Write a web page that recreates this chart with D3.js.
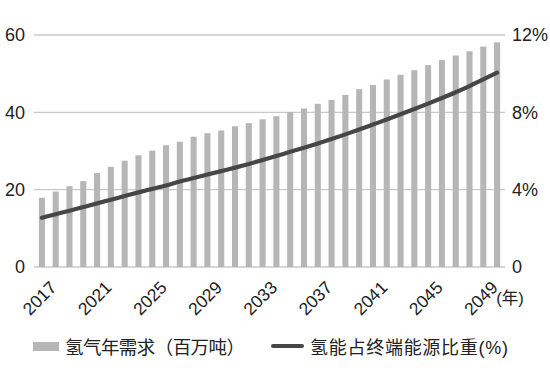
<!DOCTYPE html>
<html><head><meta charset="utf-8">
<script src="https://cdn.jsdelivr.net/npm/d3@7"></script>
<style>
html,body{margin:0;padding:0;background:#fff;}
text{font-family:"Liberation Sans",Arial,"Noto Sans CJK SC",sans-serif;fill:#222;}
.cjk{font-family:"Liberation Sans","Noto Sans CJK SC",sans-serif;}
</style></head>
<body>
<svg id="chart" width="550" height="378"></svg>
<script>
const years = d3.range(2017, 2051).map(String);
const demand = [17.9,19.5,20.9,22.2,24.3,25.9,27.5,28.9,30.1,31.5,32.4,33.7,34.6,35.3,36.4,37.2,38.2,
                39.0,40.1,41.0,42.2,43.2,44.5,46.0,47.1,48.5,49.7,50.9,52.2,53.5,54.7,55.8,57.0,58.1];
const share = [2.55,2.73,2.91,3.10,3.29,3.48,3.67,3.86,4.04,4.22,4.42,4.60,4.78,4.96,5.14,5.33,5.53,
               5.74,5.96,6.17,6.39,6.62,6.86,7.11,7.37,7.63,7.90,8.17,8.45,8.74,9.04,9.36,9.70,10.05];
const leftTicks = [0,20,40,60];
const rightTicks = [0,4,8,12];
const xTickLabels = ["2017","2021","2025","2029","2033","2037","2041","2045","2049"];
const legendLabels = ["氢气年需求（百万吨）","氢能占终端能源比重(%)"];
const unitLabel = "(年)";

(function(){
const svg = d3.select("#chart");
const L = 35, R = 504, T = 35, B = 267;
const x = d3.scaleBand().domain(years).range([L, R]).paddingInner(0.56).paddingOuter(0.28);
const yL = d3.scaleLinear().domain([0,60]).range([B, T]);
const yR = d3.scaleLinear().domain([0,12]).range([B, T]);

svg.append("g").selectAll("line").data(leftTicks).join("line")
  .attr("x1", 34).attr("x2", 505)
  .attr("y1", d => yL(d)).attr("y2", d => yL(d))
  .attr("stroke", "#c9c9c9").attr("stroke-width", 1.3);

svg.append("g").selectAll("rect").data(years).join("rect")
  .attr("x", d => x(d)).attr("width", x.bandwidth())
  .attr("y", (d,i) => yL(demand[i])).attr("height", (d,i) => yL(0) - yL(demand[i]))
  .attr("fill", "#b6b6b6");

const line = d3.line().x((d,i) => x(years[i]) + x.bandwidth()/2).y(d => yR(d)).curve(d3.curveMonotoneX);
svg.append("path").datum(share).attr("d", line)
  .attr("fill", "none").attr("stroke", "#464646").attr("stroke-width", 4.2).attr("stroke-linecap", "round");

const axL = d3.axisLeft(yL).tickValues(leftTicks).tickSize(0).tickPadding(0);
const gL = svg.append("g").attr("transform", "translate(25,0)").call(axL);
gL.select(".domain").remove();
gL.selectAll("text").style("font-size", "18px").attr("fill", "#222");

const axR = d3.axisRight(yR).tickValues(rightTicks).tickSize(0).tickPadding(0)
  .tickFormat(d => d === 0 ? "0" : d + "%");
const gR = svg.append("g").attr("transform", "translate(512,0)").call(axR);
gR.select(".domain").remove();
gR.selectAll("text").style("font-size", "18px").attr("fill", "#222");

svg.append("g").selectAll("text").data(xTickLabels).join("text")
  .attr("transform", d => `translate(${x(d) + x.bandwidth()/2 + 7},${B + 13}) rotate(-45)`)
  .attr("text-anchor", "end").attr("dy", "0.7em")
  .style("font-size", "17.5px").text(d => d);

svg.append("text").attr("x", 510).attr("y", 304).attr("text-anchor", "middle")
  .attr("class", "cjk").style("font-size", "16.5px").text(unitLabel);

const lg = svg.append("g");
lg.append("rect").attr("x", 33).attr("y", 342).attr("width", 26).attr("height", 9).attr("fill", "#b6b6b6");
lg.append("text").attr("class","cjk").attr("x", 65).attr("y", 353.5).style("font-size", "18.5px")
  .attr("textLength", 180).text(legendLabels[0]);
lg.append("line").attr("x1", 273).attr("x2", 302).attr("y1", 346).attr("y2", 346)
  .attr("stroke", "#464646").attr("stroke-width", 4).attr("stroke-linecap", "round");
lg.append("text").attr("class","cjk").attr("x", 310).attr("y", 353.5).style("font-size", "18px")
  .attr("textLength", 198).text(legendLabels[1]);
})();
</script>
</body></html>
